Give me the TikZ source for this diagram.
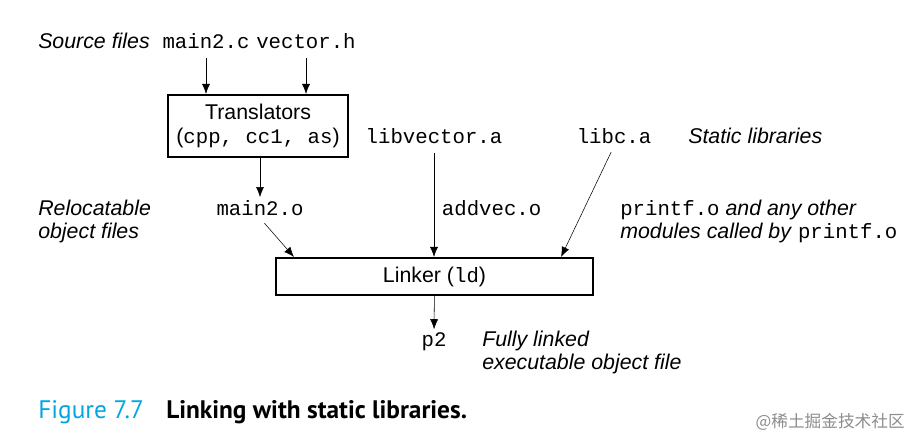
\documentclass[tikz,border=0pt]{standalone}
\usepackage{fontspec}
\setmainfont{Liberation Sans}
\setmonofont[Scale=0.97]{Liberation Mono}
\newfontfamily\capfont{PT Sans}
\newfontfamily\cjk{Noto Sans CJK SC}
\usetikzlibrary{positioning, arrows.meta}
\definecolor{figblue}{RGB}{0,166,226}
\tikzset{
->, % every connector is an arrow
>={Latex[length=7.5pt, width=6pt]}, % filled triangular heads
line width=0.8pt, % thin connectors
x=0.75pt, y=-0.75pt, % one unit is one pixel of the page, y runs down
every node/.style={font=\fontsize{16}{17.25}\selectfont, inner sep=0pt}, % plain sans text
box/.style={draw, line width=1.6pt, align=center}, % the two tool boxes
note/.style={font=\fontsize{16}{17.25}\selectfont\itshape, align=left}, % italic remarks
file/.style={font=\fontsize{16}{17.25}\selectfont\ttfamily, inner sep=2pt}, % file names
feed/.style={shorten <=5pt}, % gap after a file name
}

\begin{document}
\begin{tikzpicture}
      \useasboundingbox (0,0) rectangle (924,447);
      % top row
      \node[note, anchor=base west] (srcnote) at (38,48) {Source files};
      \node[file, anchor=base] (main2c) at (206,48) {main2.c};
      \node[file, anchor=base] (vectorh) at (306,48) {vector.h};
      \node[box, font=\fontsize{16}{18}\selectfont, minimum width=135pt, minimum height=46.5pt] (trans) at (258,126) {Translators\\(\texttt{cpp, cc1, as})};
      % libraries
      \node[file, anchor=base] (libvector) at (434,143) {libvector.a};
      \node[file, anchor=base] (libc) at (614,143) {libc.a};
      \node[note, anchor=base west] (libnote) at (688,143) {Static libraries};
      % object files (base of a two-line note is its last line)
      \node[note, anchor=base west] (relnote) at (38,238) {Relocatable\\object files};
      \node[file, anchor=base] (main2o) at (260,215) {main2.o};
      \node[file, anchor=base west] (addvec) at (439,215) {addvec.o};
      \node[note, anchor=base west] (printfo) at (620,238) {\upshape\texttt{printf.o} \itshape and any other\\modules called by \upshape\texttt{printf.o}};
      \node[box, minimum width=237.75pt, minimum height=27.75pt] (linker) at (434.5,276.5) {Linker (\texttt{ld})};
      % output
      \node[file, anchor=base] (p2) at (434,346) {p2};
      \node[note, anchor=base west] (exenote) at (482,369) {Fully linked\\executable object file};
      % caption
      \node[anchor=base west, font=\capfont\fontsize{19}{22}\selectfont, text=figblue] (fignum) at (38,418) {Figure 7.7};
      \node[anchor=base west, font=\capfont\fontsize{19}{22}\selectfont\bfseries] (figtitle) at (166,418) {Linking with static libraries.};
      \node[anchor=base east, font=\cjk\fontsize{12.5}{14}\selectfont, text=black!45] (mark) at (905,427) {@稀土掘金技术社区};
      \draw[feed] (main2c) -- (main2c |- trans.north);
      \draw[feed] (vectorh) -- (vectorh |- trans.north);
      \draw (main2o |- trans.south) -- (main2o.north);
      \draw[feed] (main2o.south) -- ([xshift=14.25pt]linker.north west);
      \draw[feed] (libvector) -- (libvector |- linker.north);
      \draw[feed] (libc.south) -- ([xshift=-24.75pt]linker.north east);
      \draw (linker) -- (p2);
    \end{tikzpicture}
\end{document}
